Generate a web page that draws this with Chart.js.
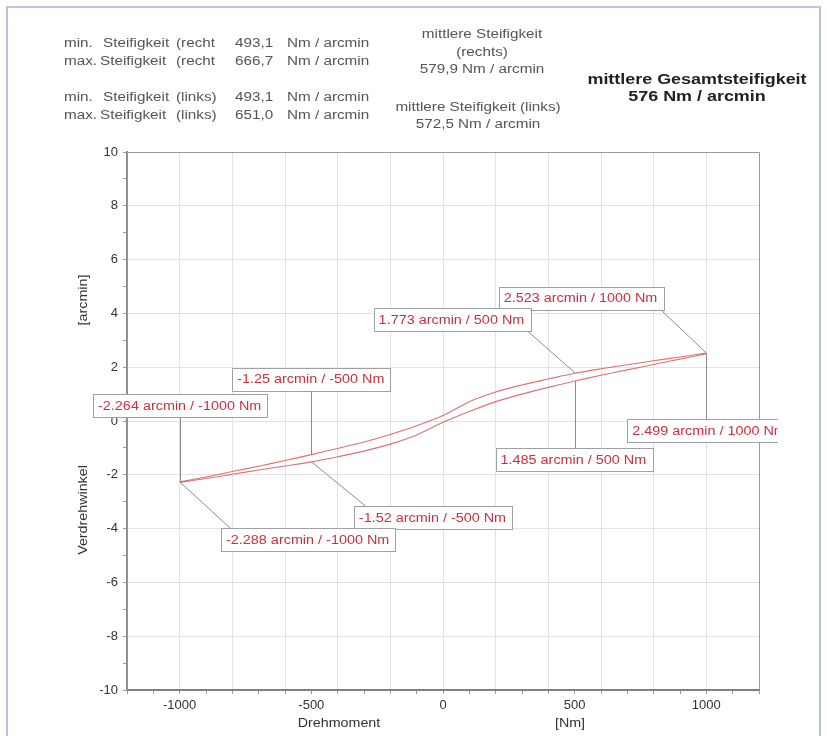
<!DOCTYPE html>
<html>
<head>
<meta charset="utf-8">
<script src="https://cdn.jsdelivr.net/npm/chart.js@4"></script>
<style>
  html, body { margin: 0; padding: 0; background: #fff; }
  #wrap { width: 827px; height: 736px; }
</style>
</head>
<body>
<div id="wrap"><canvas id="c" width="827" height="736"></canvas></div>
<script>
// torque steps [Nm] and the two branches of the hysteresis loop [arcmin]
const torque     = [-1000, -900, -800, -700, -600, -500, -400, -300, -200, -100, 0, 100, 200, 300, 400, 500, 600, 700, 800, 900, 1000];
const upperAngle = [-2.264, -2.08, -1.88, -1.68, -1.47, -1.25, -1.02, -0.78, -0.50, -0.18, 0.20, 0.72, 1.08, 1.34, 1.56, 1.773, 1.94, 2.09, 2.24, 2.38, 2.523];
const lowerAngle = [-2.288, -2.14, -1.98, -1.82, -1.67, -1.52, -1.33, -1.12, -0.86, -0.52, -0.05, 0.35, 0.72, 1.00, 1.25, 1.485, 1.70, 1.90, 2.10, 2.30, 2.499];

const xTickLabels = [-1000, -500, 0, 500, 1000];
const yTickLabels = [-10, -8, -6, -4, -2, 0, 2, 4, 6, 8, 10];

// marked points
const markTorque = [1000, 500, -500, -1000, 1000, 500, -500, -1000];
const markAngle  = [2.523, 1.773, -1.25, -2.264, 2.499, 1.485, -1.52, -2.288];

// where each label box sits (data units) and where its leader meets it
const boxCenter = [[524, 4.57], [34, 3.77], [-500, 1.56], [-998, 0.56], [1012, -0.37], [497, -1.43], [-38, -3.59], [-512, -4.42]];
const leaderX   = [824, 319, -500, -1000, 1000, 500, -296, -808];

const FONT = '"Liberation Sans", Arial, sans-serif';

const mkData = (ys) => torque.map((t, i) => ({ x: t, y: ys[i] }));

// text drawn a little wider, like the source image
function sText(ctx, text, x, y, align, sx) {
  ctx.save();
  ctx.translate(x, y);
  ctx.scale(sx, 1);
  ctx.textAlign = align;
  ctx.fillText(text, 0, 0);
  ctx.restore();
}

const overlay = {
  id: 'overlay',
  afterDraw(chart) {
    const ctx = chart.ctx;
    const xs = chart.scales.x, ys = chart.scales.y, a = chart.chartArea;
    ctx.save();

    // outer frame
    ctx.strokeStyle = '#b8c6dc';
    ctx.lineWidth = 2;
    ctx.strokeRect(7, 7, 813, 740);

    // plot box top / right
    ctx.strokeStyle = '#999';
    ctx.lineWidth = 1;
    ctx.beginPath();
    ctx.moveTo(a.left, a.top + 0.5); ctx.lineTo(a.right + 0.5, a.top + 0.5);
    ctx.lineTo(a.right + 0.5, a.bottom);
    ctx.stroke();

    // header block
    ctx.fillStyle = '#555';
    ctx.font = '12.5px ' + FONT;
    ctx.textBaseline = 'middle';
    const S = 1.22;
    const rows = [
      [44, 'min.', 103, '(recht', '493,1'],
      [62, 'max.', 100, '(recht', '666,7'],
      [98, 'min.', 103, '(links)', '493,1'],
      [116, 'max.', 100, '(links)', '651,0']
    ];
    rows.forEach(r => {
      sText(ctx, r[1], 64, r[0], 'left', S);
      sText(ctx, 'Steifigkeit', r[2], r[0], 'left', S);
      sText(ctx, r[3], 176, r[0], 'left', S);
      sText(ctx, r[4], 235, r[0], 'left', S);
      sText(ctx, 'Nm / arcmin', 287, r[0], 'left', S);
    });
    sText(ctx, 'mittlere Steifigkeit', 482, 35, 'center', S);
    sText(ctx, '(rechts)', 482, 53, 'center', S);
    sText(ctx, '579,9 Nm / arcmin', 482, 70, 'center', S);
    sText(ctx, 'mittlere Steifigkeit (links)', 478, 108, 'center', S);
    sText(ctx, '572,5 Nm / arcmin', 478, 125, 'center', S);
    ctx.fillStyle = '#222';
    ctx.font = 'bold 14px ' + FONT;
    sText(ctx, 'mittlere Gesamtsteifigkeit', 697, 80, 'center', 1.28);
    sText(ctx, '576 Nm / arcmin', 697, 97, 'center', 1.28);

    // axis titles
    ctx.fillStyle = '#333';
    ctx.font = '12px ' + FONT;
    sText(ctx, 'Drehmoment', 339, 724, 'center', 1.19);
    sText(ctx, '[Nm]', 570, 724, 'center', 1.19);
    ctx.save();
    ctx.translate(84, 300); ctx.rotate(-Math.PI / 2);
    sText(ctx, '[arcmin]', 0, 0, 'center', 1.19);
    ctx.restore();
    ctx.save();
    ctx.translate(84, 510); ctx.rotate(-Math.PI / 2);
    sText(ctx, 'Verdrehwinkel', 0, 0, 'center', 1.19);
    ctx.restore();

    // point labels with leader lines
    ctx.beginPath();
    ctx.rect(0, 0, a.right + 19, chart.height);
    ctx.clip();
    ctx.font = '12px ' + FONT;
    const LS = 1.2;
    const boxes = markTorque.map((t, i) => {
      const text = markAngle[i] + ' arcmin / ' + t + ' Nm';
      const w = ctx.measureText(text).width * LS + 11, h = 23;
      const cx = xs.getPixelForValue(boxCenter[i][0]);
      const cy = ys.getPixelForValue(boxCenter[i][1]);
      return { text, x: cx - w / 2, y: cy - h / 2, w, h,
               px: xs.getPixelForValue(t), py: ys.getPixelForValue(markAngle[i]),
               lx: xs.getPixelForValue(leaderX[i]) };
    });
    ctx.strokeStyle = '#8c8c8c';
    ctx.lineWidth = 1;
    boxes.forEach(b => {
      const ey = b.py > b.y + b.h ? b.y + b.h : b.y;
      ctx.beginPath();
      ctx.moveTo(Math.round(b.px) + 0.5, b.py);
      ctx.lineTo(Math.round(b.lx) + 0.5, ey);
      ctx.stroke();
    });
    boxes.forEach(b => {
      ctx.fillStyle = '#fff';
      ctx.fillRect(b.x, b.y, b.w, b.h);
      ctx.strokeStyle = '#a0a0a0';
      ctx.strokeRect(Math.round(b.x) + 0.5, Math.round(b.y) + 0.5, Math.round(b.w), b.h);
      ctx.fillStyle = '#c8323f';
      sText(ctx, b.text, b.x + 5, b.y + b.h / 2 + 1, 'left', LS);
    });
    ctx.restore();
  }
};

new Chart(document.getElementById('c'), {
  type: 'line',
  data: {
    datasets: [
      { label: 'oben', data: mkData(upperAngle), borderColor: 'rgba(210,80,80,0.8)', borderWidth: 1.1, pointRadius: 0, tension: 0.3, fill: false },
      { label: 'unten', data: mkData(lowerAngle), borderColor: 'rgba(210,80,80,0.8)', borderWidth: 1.1, pointRadius: 0, tension: 0.3, fill: false }
    ]
  },
  options: {
    responsive: false,
    animation: false,
    devicePixelRatio: 1,
    layout: { padding: { left: 0, right: 68, top: 152, bottom: 0 } },
    plugins: { legend: { display: false }, tooltip: { enabled: false }, title: { display: false } },
    scales: {
      x: {
        type: 'linear', min: -1200, max: 1200,
        afterFit: (s) => { s.height = 46; },
        border: { color: '#808080', width: 2 },
        grid: {
          color: (c) => (c.tick && c.tick.value % 200 === 0) ? '#e2e2e2' : 'rgba(0,0,0,0)',
          tickColor: '#999', tickLength: 4
        },
        ticks: {
          stepSize: 100, autoSkip: false, maxRotation: 0, padding: 4,
          color: '#333', font: { family: FONT, size: 13 },
          callback: (v) => xTickLabels.includes(v) ? String(v) : ''
        }
      },
      y: {
        type: 'linear', min: -10, max: 10,
        afterFit: (s) => { s.width = 127; },
        border: { color: '#909090', width: 2 },
        grid: {
          color: (c) => (c.tick && c.tick.value % 2 === 0) ? '#e2e2e2' : 'rgba(0,0,0,0)',
          tickColor: '#999', tickLength: 4
        },
        ticks: {
          stepSize: 1, autoSkip: false, padding: 5,
          color: '#333', font: { family: FONT, size: 13 },
          callback: (v) => yTickLabels.includes(v) ? String(v) : ''
        }
      }
    }
  },
  plugins: [overlay]
});
</script>
</body>
</html>
